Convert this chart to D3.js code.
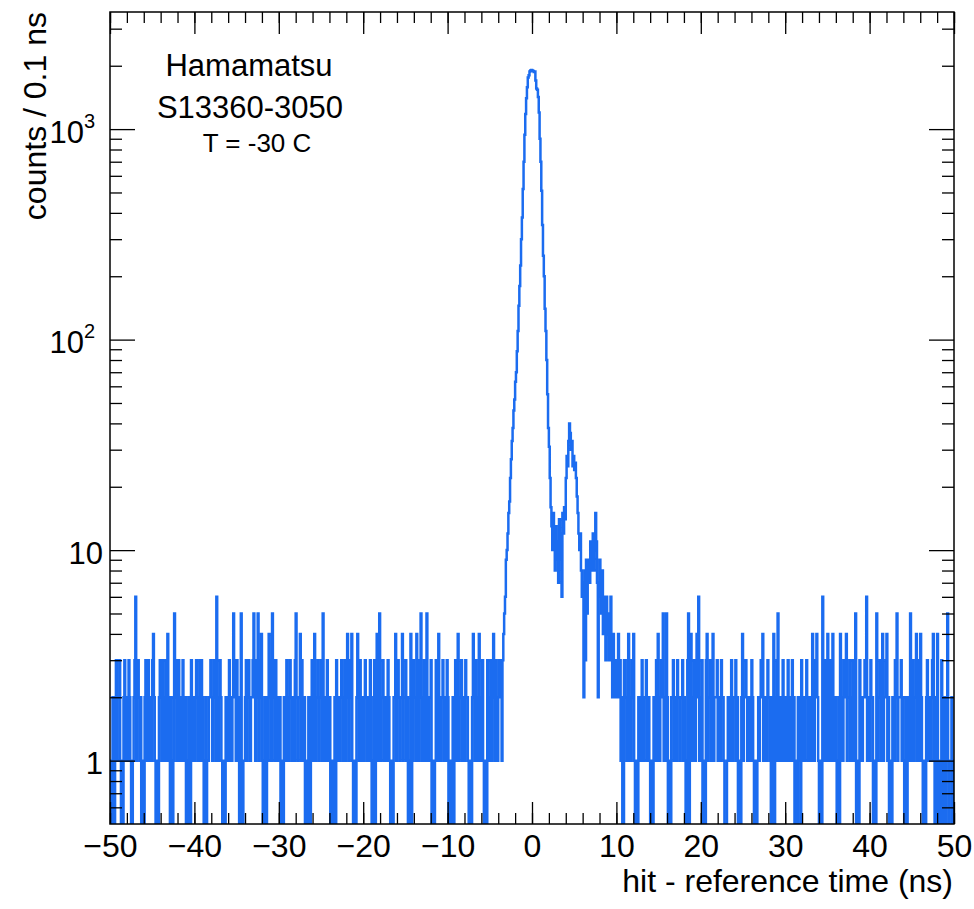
<!DOCTYPE html>
<html>
<head>
<meta charset="utf-8">
<script src="https://cdn.jsdelivr.net/npm/d3@7"></script>
<style>
  body { margin: 0; background: #fff; }
  text { font-family: "Liberation Sans", Arial, Helvetica, sans-serif; fill: #000; }
</style>
</head>
<body>
<svg id="chart" width="974" height="909"></svg>
<script>
// histogram: 1000 bins of 0.1 ns from -50 to 50
const xMin = -50, xMax = 50, binWidth = 0.1;

// bins -50.0 .. -4.1 ns (flat background)
const noiseLeft = [
  0,1,0,2,1,0,2,3,1,2, 2,3,1,0,1,0,2,3,1,2, 2,1,3,2,1,0,0,1,2,3, 6,1,2,3,2,1,2,0,1,0, 0,2,3,1,2,3,1,2,2,1,
  3,4,2,1,0,0,1,0,2,3, 2,1,3,2,1,2,3,1,4,2, 1,0,2,0,0,1,5,2,3,1, 2,3,1,2,2,1,3,2,1,2, 0,1,0,2,1,0,3,2,1,2,
  1,2,3,2,1,2,3,1,3,2, 1,0,0,2,0,1,1,2,2,3, 2,1,2,3,3,1,6,2,1,2, 3,2,1,0,0,1,0,2,2,1, 2,3,1,2,1,2,5,3,2,1,
  3,2,1,0,2,5,0,0,1,1, 2,3,1,2,3,2,1,2,2,3, 5,2,1,3,2,5,1,2,3,4, 1,0,0,2,1,0,2,1,4,2, 3,1,5,2,3,1,3,2,1,2,
  1,2,0,0,1,0,2,1,1,3, 2,1,2,3,2,1,2,2,1,3, 5,2,1,2,2,4,1,3,2,1, 2,0,1,0,0,2,1,0,2,3, 1,2,4,1,2,2,3,1,2,2,
  3,1,5,2,1,1,2,3,1,2, 2,0,0,1,0,1,2,0,3,1, 2,2,1,2,3,2,1,2,3,1, 2,4,2,1,3,2,4,1,0,0, 1,0,2,4,2,1,3,2,1,2,
  1,2,3,2,1,2,2,1,3,2, 0,0,1,3,0,2,4,1,2,5, 1,2,2,3,1,2,2,1,1,3, 2,1,0,0,1,0,2,2,4,1, 2,3,2,1,2,2,4,1,2,2,
  3,1,2,0,0,1,4,0,1,3, 2,2,1,4,2,1,3,2,5,1, 2,1,3,2,1,5,2,1,2,2, 3,0,1,0,0,1,3,2,1,4, 2,1,2,2,3,1,2,2,1,3,
  2,0,1,0,0,1,2,0,2,3, 1,2,4,1,2,2,3,1,2,2, 1,3,2,2,1,0,0,1,0,2, 4,2,1,3,2,1,2,4,1,1, 2,3,1,0,0,1,0,3,2,1,
  2,3,1,2,4,2,1,3,2,1
];

// bins -4.0 .. 9.9 ns (main peak + delayed bumps)
const peak = [
  2,3,2,3,1,3,4,5,6,9,
  10,12,15,17,22,27,33,38,46,52,
  63,70,88,110,145,180,225,300,380,520,
  700,940,1180,1400,1580,1760,1800,1880,1900,1910,
  1900,1890,1870,1880,1700,1560,1540,1420,1200,900,
  700,510,350,250,200,140,110,80,55,38,
  31,22,16,13,10,15,11,8,13,9,
  11,7,14,12,9,6,15,12,16,14,
  22,28,25,33,40,36,30,33,25,28,
  24,26,22,18,15,12,10,12,8,6,
  7,2,8,3,9,5,7,9,7,11,
  8,9,12,8,10,15,11,7,2,6,
  9,7,5,8,4,6,5,3,6,4,
  5,3,4,6,3,2,4,3,2,3
];

// bins 10.0 .. 49.9 ns (flat background)
const noiseRight = [
  3,2,4,2,3,1,2,0,0,3, 2,2,1,3,4,1,2,1,3,2, 4,1,0,0,1,0,2,2,1,1, 3,2,1,2,2,3,1,2,2,1, 0,1,0,0,2,1,2,3,1,4,
  2,1,2,3,2,5,1,2,1,5, 2,0,0,1,0,2,2,3,1,2, 1,1,3,2,2,1,2,2,3,1, 2,1,0,0,3,5,0,2,4,1, 1,2,3,1,2,4,2,6,1,2,
  1,3,0,0,1,0,3,4,1,2, 2,3,1,2,4,1,2,2,2,3, 1,2,1,1,3,2,2,1,0,0, 0,1,2,2,1,1,3,2,1,2, 2,3,1,2,0,0,1,0,2,4,
  1,2,2,3,2,1,2,2,1,1, 3,2,1,0,0,1,0,1,2,1, 2,3,2,4,1,2,1,2,1,3, 2,2,1,0,2,0,4,0,2,1, 3,5,1,2,2,1,1,3,2,1,
  2,1,1,3,2,2,1,2,3,1, 2,0,0,1,0,2,1,2,0,3, 1,2,2,1,2,3,2,1,2,2, 1,1,4,2,1,3,2,4,2,1, 0,0,1,0,6,2,1,3,2,1,
  4,1,2,3,1,2,4,1,2,2, 1,0,0,2,0,4,2,1,1,3, 2,2,4,1,2,2,3,1,2,1, 3,1,2,5,0,0,1,0,3,1, 2,1,2,2,3,2,6,1,2,1,
  1,3,2,2,0,0,1,0,5,1, 2,2,3,1,2,4,1,2,2,3, 4,1,2,0,1,0,0,2,1,1, 3,2,5,1,2,2,2,3,1,2, 1,0,0,2,0,1,1,2,5,1,
  2,3,1,2,2,4,1,2,3,1, 4,2,1,0,0,1,0,2,3,1, 2,2,1,2,3,4,1,0,2,0, 4,0,1,0,0,3,1,0,2,1, 0,2,5,1,0,0,0,2,1,0
];

const xTicks = d3.range(-50, 51, 10);
const xMinorTicks = d3.range(-50, 51, 2);
const yTicks = [1, 10, 100, 1000];
const yTickBase = ["1", "10", "10", "10"];
const yTickExp = ["", "", "2", "3"];
const yMinorTicks = [0.6, 0.7, 0.8, 0.9, 2, 3, 4, 5, 6, 7, 8, 9,
  20, 30, 40, 50, 60, 70, 80, 90, 200, 300, 400, 500, 600, 700, 800, 900, 2000, 3000];

const counts = noiseLeft.concat(peak, noiseRight);

const fLeft = 110, fRight = 954, fTop = 12, fBottom = 824;
const svg = d3.select("#chart");

const x = d3.scaleLinear().domain([xMin, xMax]).range([fLeft, fRight]);
const y = d3.scaleLog().domain([0.5, 3600]).range([fBottom, fTop]);

svg.append("clipPath").attr("id", "frame")
  .append("rect")
  .attr("x", fLeft).attr("y", fTop)
  .attr("width", fRight - fLeft).attr("height", fBottom - fTop);

// step outline of the histogram, empty bins drop below the frame
const pts = [];
counts.forEach((c, i) => {
  const yy = c > 0 ? y(c) : fBottom + 10;
  pts.push([x(xMin + i * binWidth), yy]);
  pts.push([x(xMin + (i + 1) * binWidth), yy]);
});

svg.append("path")
  .attr("clip-path", "url(#frame)")
  .attr("d", d3.line()(pts))
  .attr("fill", "none")
  .attr("stroke", "#1b6cf0")
  .attr("stroke-width", 2.5)
  .attr("stroke-linejoin", "miter");

// axes, ticks on all four sides pointing inwards
function styleAxis(g) {
  g.select(".domain").remove();
  g.selectAll(".tick line").attr("stroke", "#000").attr("stroke-width", 1.3);
}

svg.append("g").attr("transform", `translate(0,${fBottom})`)
  .call(d3.axisBottom(x).tickValues(xMinorTicks).tickSize(-11).tickFormat(""))
  .call(styleAxis);
svg.append("g").attr("transform", `translate(0,${fTop})`)
  .call(d3.axisTop(x).tickValues(xMinorTicks).tickSize(-11).tickFormat(""))
  .call(styleAxis);
svg.append("g").attr("transform", `translate(0,${fTop})`)
  .call(d3.axisTop(x).tickValues(xTicks).tickSize(-22).tickFormat(""))
  .call(styleAxis);

const gx = svg.append("g").attr("transform", `translate(0,${fBottom})`)
  .call(d3.axisBottom(x).tickValues(xTicks).tickSize(-22).tickPadding(10).tickFormat(d3.format("d")))
  .call(styleAxis);
gx.selectAll(".tick text")
  .attr("font-size", 32)
  .attr("font-family", "Liberation Sans, Arial, sans-serif")
  .attr("fill", "#000");

svg.append("g").attr("transform", `translate(${fLeft},0)`)
  .call(d3.axisLeft(y).tickValues(yMinorTicks).tickSize(-12).tickFormat(""))
  .call(styleAxis);
svg.append("g").attr("transform", `translate(${fRight},0)`)
  .call(d3.axisRight(y).tickValues(yMinorTicks).tickSize(-12).tickFormat(""))
  .call(styleAxis);
svg.append("g").attr("transform", `translate(${fRight},0)`)
  .call(d3.axisRight(y).tickValues(yTicks).tickSize(-25).tickFormat(""))
  .call(styleAxis);

const gy = svg.append("g").attr("transform", `translate(${fLeft},0)`)
  .call(d3.axisLeft(y).tickValues(yTicks).tickSize(-25).tickPadding(7).tickFormat(""))
  .call(styleAxis);
gy.selectAll(".tick text").each(function (d, i) {
  const t = d3.select(this)
    .attr("font-size", 31)
    .attr("font-family", "Liberation Sans, Arial, sans-serif")
    .attr("fill", "#000")
    .attr("dy", "0.42em");
  t.append("tspan").text(yTickBase[i]);
  if (yTickExp[i]) {
    t.attr("x", -15);
    t.append("tspan").attr("font-size", 20).attr("dy", "-0.75em").text(yTickExp[i]);
  }
});

// frame
svg.append("rect")
  .attr("x", fLeft).attr("y", fTop)
  .attr("width", fRight - fLeft).attr("height", fBottom - fTop)
  .attr("fill", "none").attr("stroke", "#000").attr("stroke-width", 1.5);

// axis titles
svg.append("text")
  .attr("x", 953).attr("y", 892)
  .attr("text-anchor", "end")
  .attr("font-size", 32)
  .text("hit - reference time (ns)");

svg.append("text")
  .attr("transform", "translate(46,12) rotate(-90)")
  .attr("text-anchor", "end")
  .attr("font-size", 32)
  .text("counts / 0.1 ns");

// label
svg.append("text").attr("x", 249).attr("y", 76)
  .attr("text-anchor", "middle").attr("font-size", 31).text("Hamamatsu");
svg.append("text").attr("x", 250).attr("y", 118)
  .attr("text-anchor", "middle").attr("font-size", 31).text("S13360-3050");
svg.append("text").attr("x", 257).attr("y", 152)
  .attr("text-anchor", "middle").attr("font-size", 26).text("T = -30 C");
</script>
</body>
</html>
